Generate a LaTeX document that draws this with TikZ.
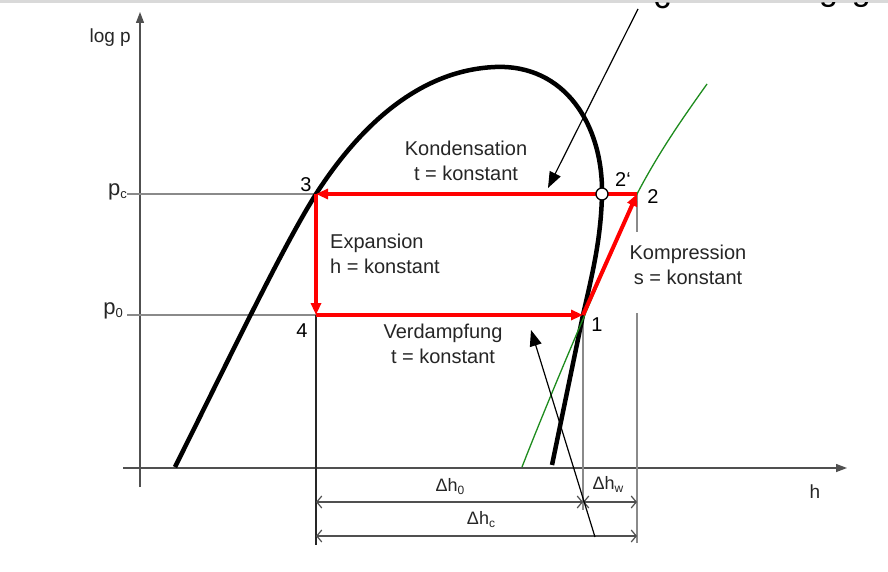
\documentclass[tikz,border=0pt]{standalone}
\usepackage{fontspec}
\setmainfont{Liberation Sans}
\usetikzlibrary{arrows.meta}
\definecolor{axisgray}{HTML}{505050}
\definecolor{linegray}{HTML}{8A8A8A}
\definecolor{textgray}{HTML}{262626}
\definecolor{cyclered}{HTML}{FF0000}
\definecolor{isogreen}{HTML}{1E8C1E}
\definecolor{stripgray}{HTML}{D9D9D9}
\begin{document}
\begin{tikzpicture}[x=1pt,y=-1pt,
  lbl/.style={text=textgray, font=\fontsize{20}{25}\selectfont, align=center, inner sep=0pt},
  num/.style={text=black, font=\fontsize{20}{20}\selectfont, inner sep=0pt},
  small/.style={text=textgray, font=\fontsize{18}{18}\selectfont, inner sep=0pt},
  axisline/.style={draw=axisgray, line width=1.3pt},
  guide/.style={draw=linegray, line width=1.6pt},
  dimline/.style={draw=axisgray, line width=1.2pt, {Straight Barb[length=5pt,width=12pt]}-{Straight Barb[length=5pt,width=12pt]}},
  redcycle/.style={draw=cyclered, line width=4pt, -{Triangle[length=12pt,width=10pt]}},
  pointer/.style={draw=black, line width=1.2pt, -{Triangle[length=16pt,width=12pt]}},
  satcurve/.style={draw=black, line width=4.5pt},
  isentrope/.style={draw=isogreen, line width=1.3pt},
]
\useasboundingbox (0,0) rectangle (888,572);
\fill[white] (0,0) rectangle (888,572);
\fill[stripgray] (0,0) rectangle (888,3);
% clipped text fragments at the top edge
\begin{scope}
  \clip (0,3) rectangle (888,572);
  \node[anchor=base, inner sep=0pt, font=\fontsize{34}{34}\selectfont] (fragc) at (662,9) {c};
  \node[anchor=base, inner sep=0pt, font=\fontsize{34}{34}\selectfont] (fragg) at (845,1) {g\hspace{14pt}g};
\end{scope}

% coordinates
\coordinate (ybot) at (140,487);
\coordinate (ytop) at (140,12);
\coordinate (xl) at (123,468);
\coordinate (xr) at (847,468);
\coordinate (p1) at (583,315);
\coordinate (p2) at (637,194);
\coordinate (p3) at (316,194);
\coordinate (p4) at (316,315);
\coordinate (pcL) at (127,194);
\coordinate (p0L) at (127,315);

% axes
\draw[axisline, -{Triangle[length=11pt,width=8pt]}] (ybot) -- (ytop);
\draw[axisline, -{Triangle[length=11pt,width=8pt]}] (xl) -- (xr);
\node[anchor=east, text=textgray, font=\fontsize{19}{19}\selectfont, inner sep=0pt] (logp) at (131,38) {log p};
\node[text=textgray, font=\fontsize{19}{19}\selectfont, inner sep=0pt] (hlab) at (815,492) {h};

% guide lines
\draw[guide] (pcL) -- (p3);
\draw[guide] (p0L) -- (p4);
\node[anchor=east, text=textgray, font=\fontsize{22}{22}\selectfont, inner sep=0pt] (pc) at (127,192) {p\raisebox{-3pt}{\fontsize{13}{13}\selectfont c}};
\node[anchor=east, text=textgray, font=\fontsize{22}{22}\selectfont, inner sep=0pt] (p0) at (123,311) {p\raisebox{-3pt}{\fontsize{13}{13}\selectfont 0}};

% vertical dimension lines
\coordinate (v4b) at (316,545);
\coordinate (v1b) at (583,510);
\coordinate (v2a) at (637,232);
\coordinate (v2c) at (637,313);
\coordinate (v2b) at (637,543);
\draw[draw=black!85, line width=1.4pt] (p4) -- (v4b);
\draw[guide, line width=1.4pt] (p1) -- (v1b);
\draw[guide, line width=1.4pt] (p2) -- (v2a);
\draw[guide, line width=1.4pt] (v2c) -- (v2b);

% dimension arrows
\coordinate (d0a) at (316,502);
\coordinate (d0b) at (583,502);
\coordinate (dwb) at (637,502);
\coordinate (dca) at (316,536);
\coordinate (dcb) at (637,536);
\draw[dimline] (d0a) -- (d0b);
\draw[dimline] (d0b) -- (dwb);
\draw[dimline] (dca) -- (dcb);
\node[small] (dh0) at (450,487) {Δh\raisebox{-3pt}{\fontsize{12}{12}\selectfont 0}};
\node[small] (dhw) at (608,484) {Δh\raisebox{-3pt}{\fontsize{12}{12}\selectfont w}};
\node[small] (dhc) at (481,520) {Δh\raisebox{-3pt}{\fontsize{12}{12}\selectfont c}};

% saturation curve
\draw[satcurve] (175,467) .. controls (230,357) and (282,248) .. (p3)
  .. controls (365,118) and (425,70) .. (495,67)
  .. controls (565,64) and (603,125) .. (602,194)
  .. controls (601,240) and (592,275) .. (p1) -- (552,465);

% isentrope
\draw[isentrope] (522,467) .. controls (560,370) and (612,252) .. (p2)
  .. controls (660,150) and (685,115) .. (707,84);

% refrigeration cycle
\draw[redcycle] (p2) -- (p3);
\draw[redcycle] (p3) -- (p4);
\draw[redcycle] (p4) -- (p1);
\draw[redcycle] (p1) -- (p2);
\node[circle, draw=black, fill=white, line width=1.3pt, minimum size=12pt, inner sep=0pt] (c2s) at (602,194) {};

% point labels
\node[num] (n3) at (306,185) {3};
\node[num] (n4) at (302,331) {4};
\node[num] (n1) at (597,325) {1};
\node[num] (n2) at (653,197) {2};
\node[num] (n2s) at (623,180) {2‘};

% process labels
\node[lbl] (kond) at (466,161) {Kondensation\\t = konstant};
\node[lbl, align=left, anchor=west] (expa) at (330,254) {Expansion\\h = konstant};
\node[lbl] (verd) at (443,344) {Verdampfung\\t = konstant};
\node[lbl] (komp) at (688,265) {Kompression\\s = konstant};

% pointer arrows
\coordinate (ptrA) at (638,9);
\coordinate (tipA) at (548,188);
\coordinate (ptrB) at (595,537);
\coordinate (tipB) at (531,330);
\draw[pointer] (ptrA) -- (tipA);
\draw[pointer] (ptrB) -- (tipB);
\end{tikzpicture}
\end{document}
